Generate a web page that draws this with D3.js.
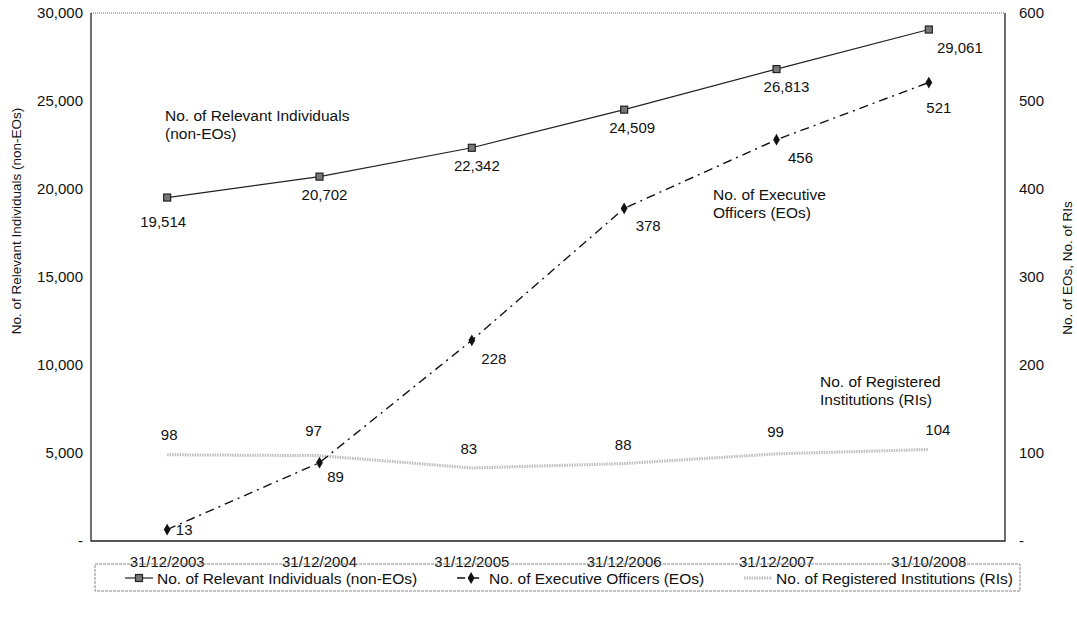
<!DOCTYPE html>
<html><head><meta charset="utf-8">
<script src="https://cdn.jsdelivr.net/npm/d3@7"></script>
<style>
body{margin:0;background:#fff;}
text{font-family:"Liberation Sans",Arial,sans-serif;fill:#111;}
</style></head>
<body><svg id="chart" width="1077" height="619"></svg>
<script>
const categories = ["31/12/2003","31/12/2004","31/12/2005","31/12/2006","31/12/2007","31/10/2008"];
const relevantIndividuals = [19514, 20702, 22342, 24509, 26813, 29061];
const executiveOfficers = [13, 89, 228, 378, 456, 521];
const registeredInstitutions = [98, 97, 83, 88, 99, 104];
const leftTicks = [0, 5000, 10000, 15000, 20000, 25000, 30000];
const rightTicks = [0, 100, 200, 300, 400, 500, 600];
const seriesNames = ["No. of Relevant Individuals (non-EOs)", "No. of Executive Officers (EOs)", "No. of Registered Institutions (RIs)"];

// label offsets (layout only)
const riLabelOff = [[-4,29],[5,23],[5,23],[8,23],[10,23],[31,23]];
const eoLabelOff = [[17,5],[16,19],[22,24],[24,23],[24,23],[10,30]];
const rsLabelOff = [[2,-15],[-6,-20],[-3,-14],[-1,-14],[-1,-17],[9,-14]];

const svg = d3.select("#chart");
const m = {l:91, r:1005, t:13, b:541};
const x = d3.scaleBand().domain(categories).range([m.l, m.r]);
const cx = d => x(d) + x.bandwidth()/2;
const yL = d3.scaleLinear().domain([0,30000]).range([m.b, m.t]);
const yR = d3.scaleLinear().domain([0,600]).range([m.b, m.t]);
const FS = 15;

// plot frame
svg.append("line").attr("x1",m.l).attr("x2",m.r).attr("y1",m.t).attr("y2",m.t)
  .attr("stroke","#666").attr("stroke-width",1).attr("stroke-dasharray","1,1");
svg.append("path").attr("d",`M${m.l},${m.t}V${m.b}H${m.r}V${m.t}`)
  .attr("fill","none").attr("stroke","#222").attr("stroke-width",1.3);

// axes
const fmtL = d => d === 0 ? "-" : d3.format(",")(d);
const fmtR = d => d === 0 ? "-" : d;
const axL = svg.append("g").attr("transform",`translate(${m.l},0)`)
  .call(d3.axisLeft(yL).tickValues(leftTicks).tickFormat(fmtL).tickSize(0).tickPadding(8));
axL.select(".domain").remove();
axL.selectAll("text").attr("font-size",FS).attr("font-family","Liberation Sans, Arial");
const axR = svg.append("g").attr("transform",`translate(${m.r},0)`)
  .call(d3.axisRight(yR).tickValues(rightTicks).tickFormat(fmtR).tickSize(0).tickPadding(14));
axR.select(".domain").remove();
axR.selectAll("text").attr("font-size",FS).attr("font-family","Liberation Sans, Arial");
const axB = svg.append("g").attr("transform",`translate(0,${m.b})`)
  .call(d3.axisBottom(x).tickSize(0).tickPadding(15));
axB.select(".domain").remove();
axB.selectAll("text").attr("font-size",FS).attr("font-family","Liberation Sans, Arial");

// axis titles
svg.append("text").attr("transform","translate(21,221) rotate(-90)")
  .attr("text-anchor","middle").attr("font-size",13.5).text("No. of Relevant Individuals (non-EOs)");
svg.append("text").attr("transform","translate(1072,268) rotate(-90)")
  .attr("text-anchor","middle").attr("font-size",13.5).text("No. of EOs, No. of RIs");

// registered institutions line
const lineR = d3.line().x((d,i)=>cx(categories[i])).y(d=>yR(d));
svg.append("path").datum(registeredInstitutions).attr("d",lineR)
  .attr("fill","none").attr("stroke","#bdbdbd").attr("stroke-width",3).attr("stroke-dasharray","1.5,1");

// relevant individuals
const lineL = d3.line().x((d,i)=>cx(categories[i])).y(d=>yL(d));
svg.append("path").datum(relevantIndividuals).attr("d",lineL)
  .attr("fill","none").attr("stroke","#222").attr("stroke-width",1.2);
svg.selectAll(".sq").data(relevantIndividuals).join("rect")
  .attr("x",(d,i)=>cx(categories[i])-3.5).attr("y",d=>yL(d)-3.5).attr("width",7).attr("height",7)
  .attr("fill","#777").attr("stroke","#222").attr("stroke-width",1.2);

// executive officers
svg.append("path").datum(executiveOfficers).attr("d",lineR)
  .attr("fill","none").attr("stroke","#111").attr("stroke-width",1.4).attr("stroke-dasharray","9,5,2,5");
const diamond = d3.symbol().type(d3.symbolDiamond).size(40);
svg.selectAll(".dm").data(executiveOfficers).join("path")
  .attr("d",diamond).attr("transform",(d,i)=>`translate(${cx(categories[i])},${yR(d)})`)
  .attr("fill","#111");

// data labels
const fmt = d3.format(",");
svg.selectAll(".lri").data(relevantIndividuals).join("text")
  .attr("x",(d,i)=>cx(categories[i])+riLabelOff[i][0]).attr("y",(d,i)=>yL(d)+riLabelOff[i][1])
  .attr("text-anchor","middle").attr("font-size",FS).text(d=>fmt(d));
svg.selectAll(".leo").data(executiveOfficers).join("text")
  .attr("x",(d,i)=>cx(categories[i])+eoLabelOff[i][0]).attr("y",(d,i)=>yR(d)+eoLabelOff[i][1])
  .attr("text-anchor","middle").attr("font-size",FS).text(d=>d);
svg.selectAll(".lrs").data(registeredInstitutions).join("text")
  .attr("x",(d,i)=>cx(categories[i])+rsLabelOff[i][0]).attr("y",(d,i)=>yR(d)+rsLabelOff[i][1])
  .attr("text-anchor","middle").attr("font-size",FS).text(d=>d);

// annotations
const ann = [
  {x:165,y:121,lines:["No. of Relevant Individuals","(non-EOs)"]},
  {x:713,y:200,lines:["No. of Executive","Officers (EOs)"]},
  {x:820,y:387,lines:["No. of Registered","Institutions (RIs)"]}
];
ann.forEach(a=>{
  const t = svg.append("text").attr("font-size",15.5);
  a.lines.forEach((l,j)=>t.append("tspan").attr("x",a.x).attr("y",a.y+j*18).text(l));
});

// legend
const lg = svg.append("g");
lg.append("rect").attr("x",95).attr("y",564).attr("width",925).attr("height",27)
  .attr("fill","none").attr("stroke","#888").attr("stroke-width",1).attr("stroke-dasharray","3,1");
const ly = 578, LFS = 15.5, lineW = 28, startX = 125, endX = 1013;
const texts = seriesNames.map(s => lg.append("text").attr("y",ly+5.5).attr("font-size",LFS).text(s));
const widths = texts.map(t => t.node().getComputedTextLength());
const gap = (endX - startX - 3*(lineW+4) - d3.sum(widths)) / 2;
let cur = startX;
seriesNames.forEach((s,i)=>{
  const x0 = cur, x1 = cur + lineW, mid = (x0+x1)/2;
  if(i===0){
    lg.append("line").attr("x1",x0).attr("x2",x1).attr("y1",ly).attr("y2",ly).attr("stroke","#222").attr("stroke-width",1.2);
    lg.append("rect").attr("x",mid-3.5).attr("y",ly-3.5).attr("width",7).attr("height",7).attr("fill","#777").attr("stroke","#222").attr("stroke-width",1.2);
  } else if(i===1){
    lg.append("line").attr("x1",x0).attr("x2",x1).attr("y1",ly).attr("y2",ly).attr("stroke","#111").attr("stroke-width",1.4).attr("stroke-dasharray","8,6");
    lg.append("path").attr("d",diamond).attr("transform",`translate(${mid},${ly})`).attr("fill","#111");
  } else {
    lg.append("line").attr("x1",x0).attr("x2",x1).attr("y1",ly).attr("y2",ly).attr("stroke","#bdbdbd").attr("stroke-width",3).attr("stroke-dasharray","1.5,1");
  }
  texts[i].attr("x", x1+4);
  cur = x1 + 4 + widths[i] + gap;
});
</script></body></html>
